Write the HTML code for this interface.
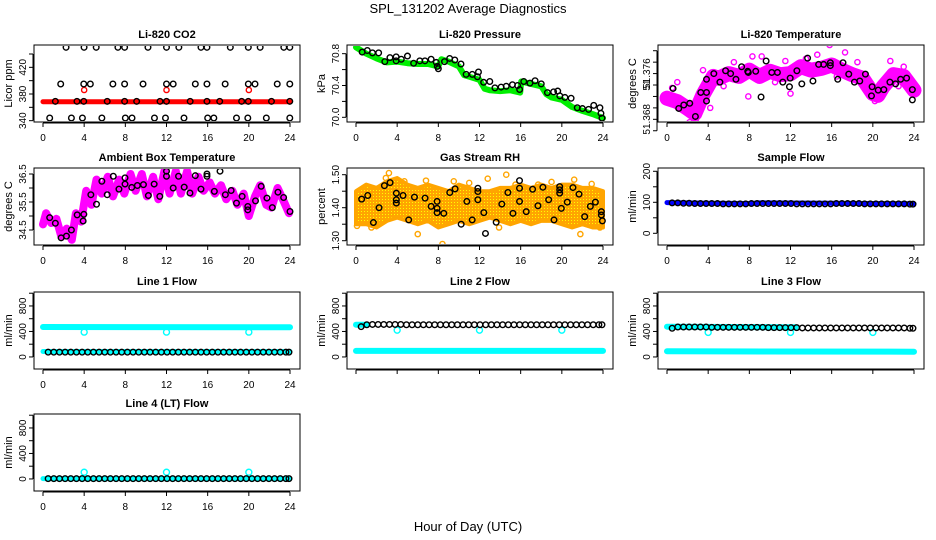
<!DOCTYPE html>
<html><head><meta charset="utf-8"><title>SPL_131202 Average Diagnostics</title>
<style>
html,body{margin:0;padding:0;background:#fff;}
svg{display:block;font-family:"Liberation Sans",Arial,sans-serif;}
</style></head>
<body>
<svg id="chart" width="936" height="540" viewBox="0 0 936 540" xmlns="http://www.w3.org/2000/svg">
<defs>
<pattern id="rhpat" width="3" height="3" patternUnits="userSpaceOnUse">
<rect width="3" height="3" fill="#ffa500"/>
<rect x="1" y="1" width="1" height="1" fill="#ffff00"/>
</pattern>
</defs>
<rect width="936" height="540" fill="#fff"/>
<text x="468" y="13" font-size="13" text-anchor="middle">SPL_131202  Average Diagnostics</text>
<text x="468" y="531" font-size="13" text-anchor="middle">Hour of Day (UTC)</text>
</svg>
<script>
// ---------- x axis ----------
const hourTicks = [0,4,8,12,16,20,24];

// ---------- CO2 ----------
const co2RedT = [0,24];
const co2RedV = [368.5,368.5];
const co2RedDotT = [4,12,20];
const co2RedDotV = [386,386,386];
const co2BlackT = [2.24,3.99,5.17,7.28,7.93,10.2,12.0,13.2,15.35,15.93,18.2,19.95,21.1,23.4,23.98,
 1.72,3.96,4.6,6.79,7.93,9.72,12.0,12.65,14.8,15.93,17.7,19.95,20.6,22.76,23.98,
 1.2,3.3,3.96,6.24,7.93,9.1,11.37,12.0,14.3,15.93,17.17,19.3,19.95,22.2,23.98,
 0.65,2.76,3.83,5.72,8.0,8.65,10.83,11.9,13.7,16.0,16.6,18.8,19.9,21.7,23.98];
const co2BlackV = [450,450,450,450,450,450,450,450,450,450,450,450,450,450,450,
 395,395,395,395,395,395,395,395,395,395,395,395,395,395,395,
 369,369,369,369,369,369,369,369,369,369,369,369,369,369,369,
 344,344,344,344,344,344,344,344,344,344,344,344,344,344,344];

// ---------- Pressure ----------
const presGreenT = [0,1,2,3,4,5,6,7,8,8.3,9,10,10.5,11,12,12.5,13,14,15,15.95,16.05,17,18,18.5,19,20,21,22,23,24];
const presGreenV = [70.88,70.80,70.74,70.69,70.70,70.68,70.67,70.67,70.64,70.73,70.70,70.64,70.53,70.51,70.47,70.36,70.34,70.33,70.34,70.31,70.45,70.42,70.39,70.29,70.25,70.22,70.13,70.08,70.04,69.99];
const presBlackT = [0.6,1.1,1.6,2.2,2.8,3.3,3.9,3.9,4.4,5.0,5.6,6.2,6.7,7.3,7.8,7.9,8.0,8.6,9.1,9.6,10.2,10.7,11.3,11.8,11.9,12.4,13.0,13.5,14.1,14.6,15.2,15.7,15.9,16.3,16.9,17.4,18.0,18.6,19.2,19.6,19.8,20.3,20.9,21.5,22.0,22.6,23.1,23.7,23.8,23.9];
const presBlackV = [70.82,70.84,70.81,70.81,70.70,70.75,70.76,70.71,70.73,70.77,70.68,70.71,70.71,70.73,70.69,70.64,70.61,70.70,70.74,70.72,70.67,70.54,70.54,70.51,70.57,70.44,70.45,70.37,70.38,70.39,70.41,70.40,70.35,70.45,70.43,70.46,70.42,70.31,70.32,70.33,70.27,70.25,70.24,70.12,70.11,70.10,70.15,70.12,70.05,69.99];

// ---------- Li-820 Temperature ----------
const tempMagT = [0,1,2,2.7,3.5,4.5,5,6,7,8,9,10,11,12,13,14,15,16,17,18,19,20,20.5,21,22,23,24];
const tempMagV = [51.3717,51.3711,51.3699,51.3690,51.3723,51.3755,51.3752,51.3760,51.3755,51.3766,51.3755,51.3764,51.3758,51.3760,51.3772,51.3766,51.3769,51.3775,51.3766,51.3758,51.3752,51.3725,51.3722,51.3737,51.3758,51.3755,51.3731];
const tempMagDotT = [1.0,7.9,9.2,15.8,17.3,21.7,23.0,14.6,8.3,3.5,2.2,12,4.2,19.5,0.5,5.5,6.5,10.5,11.5,13.5,16.5,18.5,22.5,2.8,20.2];
const tempMagDotV = [51.3745,51.3720,51.3790,51.3810,51.3797,51.3782,51.3772,51.3793,51.3790,51.3766,51.3675,51.3725,51.3700,51.3740,51.3735,51.3738,51.3780,51.3745,51.3782,51.3786,51.3755,51.3780,51.3738,51.3680,51.3712];
const tempBlackT = [0.59,1.14,1.63,2.21,2.76,3.28,3.84,3.84,3.84,4.55,5.14,5.69,6.18,6.70,7.25,7.84,7.9,8.62,9.14,9.63,10.18,10.73,11.25,11.9,11.97,12.62,13.1,13.66,14.18,14.73,15.22,15.87,15.87,16.59,17.1,17.66,18.21,18.73,19.28,19.87,19.93,20.52,21.07,21.66,22.21,22.7,23.28,23.84,23.84];
const tempBlackV = [51.3734,51.3699,51.3705,51.3708,51.3685,51.3727,51.3727,51.3712,51.3750,51.3760,51.3745,51.3765,51.3760,51.3750,51.3772,51.3764,51.3762,51.3764,51.3719,51.3782,51.3762,51.3762,51.3745,51.3737,51.3752,51.3765,51.3742,51.3787,51.3747,51.3776,51.3776,51.3779,51.3774,51.3750,51.3779,51.3759,51.3745,51.3747,51.3759,51.3721,51.3737,51.3731,51.3732,51.3745,51.3742,51.3750,51.3752,51.3732,51.3714];

// ---------- Ambient Box Temperature ----------
const ambMagT = [0,0.3,0.8,1.3,1.8,2.3,2.8,3.2,3.7,4.2,4.7,5.2,5.7,6.3,6.8,7.4,7.9,8.5,9.0,9.6,10.1,10.7,11.2,11.8,12.3,12.9,13.4,14.0,14.5,15.1,15.6,16.2,16.7,17.3,17.8,18.4,18.9,19.5,20.0,20.6,21.1,21.7,22.2,22.8,23.3,23.9];
const ambMagV = [34.7,35.1,34.75,34.9,34.25,34.55,34.15,35.1,34.8,35.9,35.4,36.3,35.8,36.4,35.7,36.3,35.8,36.5,35.9,36.5,35.7,36.4,35.6,36.6,35.8,36.6,35.8,36.6,35.8,36.4,35.9,36.2,35.8,36.1,35.6,35.9,35.4,35.8,35.0,35.7,36.1,35.4,35.3,36.0,35.6,35.1];
const ambBlackT = [0.65,1.2,1.76,2.28,2.76,3.32,3.9,3.97,4.65,5.2,5.72,6.24,6.83,7.38,7.97,7.97,8.62,9.17,9.76,10.24,10.8,11.35,12.0,12.0,12.65,13.17,13.72,14.28,14.8,15.35,15.93,15.93,16.65,17.2,17.72,18.28,18.8,19.35,19.9,19.9,20.65,21.2,21.76,22.28,22.83,23.38,24.0];
const ambBlackV = [34.94,34.74,34.22,34.28,34.5,35.04,34.82,35.06,35.76,35.42,36.24,35.76,36.42,35.96,36.14,36.36,36.02,36.09,36.12,35.73,36.14,35.70,36.60,36.42,36.00,36.42,36.03,35.82,36.44,35.96,36.50,36.42,35.88,36.60,35.76,35.91,35.46,35.70,35.34,35.22,35.54,36.06,35.64,35.30,35.85,35.66,35.16];

// ---------- Gas Stream RH ----------
const rhEnvT = [0,1,2,3,4,5,6,7,8,9,10,11,12,13,14,15,16,17,18,19,20,21,22,23,24];
const rhHi = [1.45,1.47,1.46,1.48,1.49,1.47,1.46,1.47,1.46,1.45,1.47,1.46,1.45,1.45,1.46,1.46,1.47,1.46,1.47,1.46,1.47,1.47,1.46,1.46,1.45];
const rhLo = [1.35,1.35,1.34,1.36,1.37,1.36,1.35,1.36,1.34,1.35,1.36,1.35,1.36,1.37,1.36,1.35,1.36,1.35,1.36,1.36,1.35,1.34,1.35,1.34,1.34];
const rhDotT = [3.2,14.6,8.4,6.0,21.8,13.9,23.7,21.2,0.1,9.5,17.7,4.7,2.9,6.8,11.0,15.5,19.0,22.9,1.5,12.8];
const rhDotV = [1.505,1.500,1.290,1.320,1.320,1.340,1.340,1.485,1.345,1.480,1.470,1.480,1.490,1.482,1.475,1.470,1.478,1.472,1.340,1.488];
const rhBlackT = [0.55,1.14,1.69,2.24,2.76,3.31,3.92,3.92,3.92,4.57,5.12,5.68,6.71,7.3,7.88,7.88,7.88,8.53,9.11,9.63,10.22,10.77,11.29,11.84,11.84,11.84,12.42,12.58,13.62,14.17,14.76,15.25,15.89,15.89,15.89,16.54,17.16,17.68,18.16,18.72,19.24,19.79,19.79,19.79,19.95,20.53,21.08,21.67,22.22,22.77,23.26,23.84,23.84,23.94];
const rhBlackV = [1.426,1.437,1.355,1.400,1.467,1.476,1.444,1.424,1.414,1.437,1.363,1.432,1.429,1.404,1.419,1.398,1.385,1.383,1.446,1.457,1.350,1.419,1.363,1.459,1.449,1.424,1.385,1.322,1.356,1.411,1.446,1.383,1.482,1.459,1.419,1.388,1.456,1.406,1.462,1.424,1.363,1.464,1.454,1.444,1.398,1.417,1.461,1.441,1.373,1.404,1.417,1.388,1.378,1.360];

// ---------- Flows ----------
const flowBlackT = [0.5,1.05,1.6,2.15,2.7,3.25,3.8,4.35,4.9,5.45,6.0,6.55,7.1,7.65,8.2,8.75,9.3,9.85,10.4,10.95,11.5,12.05,12.6,13.15,13.7,14.25,14.8,15.35,15.9,16.45,17.0,17.55,18.1,18.65,19.2,19.75,20.3,20.85,21.4,21.95,22.5,23.05,23.6,23.9];
const sampleBlueT = [0,2,4,8,9,16,24];
const sampleBlueV = [99,98,97,96,98,97,95];
const sampleBlackV = [98,98,97,97,96,96,96,96,96,95,95,95,95,95,96,96,96,96,96,96,96,96,95,95,95,95,95,95,95,96,96,96,96,96,95,95,95,95,95,95,95,95,94,94];
const line1CyanHiT = [0,24];
const line1CyanHiV = [470,465];
const line1CyanLoT = [0,24];
const line1CyanLoV = [85,85];
const line1DipT = [4,12,20];
const line1DipV = [390,390,390];
const line1BlackV = [75,75,75,75,75,75,75,75,75,75,75,75,75,75,75,75,75,75,75,75,75,75,75,75,75,75,75,75,75,75,75,75,75,75,75,75,75,75,75,75,75,75,75,75];
const line2CyanHiT = [0,1];
const line2CyanHiV = [505,505];
const line2CyanLoT = [0,24];
const line2CyanLoV = [95,95];
const line2DipT = [4,12,20];
const line2DipV = [420,420,420];
const line2BlackV = [475,505,510,510,510,510,510,510,505,505,505,505,505,505,505,505,505,505,505,505,505,505,505,505,505,505,505,505,505,505,505,505,505,505,505,505,505,505,505,505,505,505,505,505];
const line3CyanHiT = [0,12.5];
const line3CyanHiV = [475,465];
const line3CyanLoT = [0,24];
const line3CyanLoV = [88,82];
const line3DipT = [4,12,20];
const line3DipV = [385,385,385];
const line3BlackV = [450,470,470,470,470,470,470,465,465,465,465,465,465,465,465,465,465,460,460,460,460,460,460,455,455,455,455,455,455,455,455,455,455,455,455,455,455,455,455,455,455,455,450,450];
const line4CyanLoT = [0,24];
const line4CyanLoV = [5,5];
const line4DipT = [4,12,20];
const line4DipV = [105,105,105];
const line4BlackV = [5,5,5,5,5,5,5,5,5,5,5,5,5,5,5,5,5,5,5,5,5,5,5,5,5,5,5,5,5,5,5,5,5,5,5,5,5,5,5,5,5,5,5,5];

// ---------- drawing ----------
const NS = "http://www.w3.org/2000/svg";
const svg = document.getElementById("chart");
function mk(tag, attrs, parent){
  const e = document.createElementNS(NS, tag);
  for (const k in attrs) e.setAttribute(k, attrs[k]);
  parent.appendChild(e);
  return e;
}
const colLeft = [34,347,658];
const rowTop = [45,168,292,414];
const PW = 266, PH = 77;

function panel(col,row,name,title,ylab,ymin,ymax,yticks,ylabels){
  const L = colLeft[col], T = rowTop[row];
  const g = mk("g",{},svg);
  
  
  const sx = t => L + 9 + t*(PW-19)/24;
  const sy = v => T + PH - (v-ymin)/(ymax-ymin)*PH;
  const tt = mk("text",{x:L+PW/2,y:T-7,"font-size":11,"font-weight":"bold","text-anchor":"middle"},g);
  tt.textContent = title;
  
  
  const yt = mk("text",{x:0,y:0,"font-size":11,"text-anchor":"middle",transform:`translate(${L-22},${T+PH/2}) rotate(-90)`},g);
  yt.textContent = ylab;
  
  
  const ya = mk("line",{x1:L-1,x2:L-1,y1:sy(yticks[0]),y2:sy(yticks[yticks.length-1]),stroke:"#000","stroke-width":1},g);
  
  
  yticks.forEach((v,i)=>{
    const tk = mk("line",{x1:L-5,x2:L-1,y1:sy(v),y2:sy(v),stroke:"#000","stroke-width":1},g);
    
    
    if (ylabels[i] !== "") {
      const lb = mk("text",{x:0,y:0,"font-size":10,"text-anchor":"middle",transform:`translate(${L-8},${sy(v)}) rotate(-90)`},g);
      lb.textContent = ylabels[i];
      
      
    }
  });
  const xa = mk("line",{x1:sx(0),x2:sx(24),y1:T+PH+1,y2:T+PH+1,stroke:"#000","stroke-width":1},g);
  
  
  hourTicks.forEach(h=>{
    const tk = mk("line",{x1:sx(h),x2:sx(h),y1:T+PH+1,y2:T+PH+5,stroke:"#000","stroke-width":1},g);
    
    
    if (row===0 || row===3 || (row===2 && col===0) || row===1) {
      const lb = mk("text",{x:sx(h),y:T+PH+19,"font-size":10,"text-anchor":"middle"},g);
      lb.textContent = String(h);
      
      
    }
  });
  const box = mk("rect",{x:L,y:T,width:PW,height:PH,fill:"none",stroke:"#000","stroke-width":1},g);
  
  
  const clipId = name + "-clip";
  const cp = mk("clipPath",{id:clipId},g);
  mk("rect",{x:L+1,y:T+1,width:PW-2,height:PH-2},cp);
  const dg = mk("g",{"clip-path":`url(#${clipId})`},g);
  
  
  return {g:dg,sx,sy};
}
function band(p,T,V,color,w,name){
  const pts = T.map((t,i)=>p.sx(t).toFixed(1)+","+p.sy(V[i]).toFixed(1)).join(" ");
  const pl = mk("polyline",{points:pts,fill:"none",stroke:color,"stroke-width":w,"stroke-linejoin":"round","stroke-linecap":"round"},p.g);
  
  
  return pl;
}
function area(p,T,hi,lo,fill,name){
  const up = T.map((t,i)=>p.sx(t).toFixed(1)+","+p.sy(hi[i]).toFixed(1));
  const dn = T.map((t,i)=>p.sx(t).toFixed(1)+","+p.sy(lo[i]).toFixed(1)).reverse();
  const pg = mk("polygon",{points:up.concat(dn).join(" "),fill:fill,stroke:"#ffa500","stroke-width":4,"stroke-linejoin":"round"},p.g);
  
  
  return pg;
}
function dots(p,T,V,color,r,name){
  T.forEach((t,i)=>{
    const c = mk("circle",{cx:p.sx(t),cy:p.sy(V[i]),r:r,fill:"none",stroke:color,"stroke-width":1.4},p.g);
    
    
  });
}

// CO2
let p = panel(0,0,"co2","Li-820 CO2","Licor ppm",338,453.5,[340,360,380,400,420,440],["340","","380","","420",""]);
band(p,co2RedT,co2RedV,"#ff0000",5,"co2-red-band");
dots(p,co2RedDotT,co2RedDotV,"#ff0000",2.6,"co2-red-point");
dots(p,co2BlackT,co2BlackV,"#000",2.8,"co2-black-point");

// Pressure
p = panel(1,0,"pressure","Li-820 Pressure","kPa",69.941,70.909,[70.0,70.2,70.4,70.6,70.8],["70.0","","70.4","","70.8"]);
band(p,presGreenT,presGreenV,"#00ee00",6,"pressure-green-band");
dots(p,presBlackT,presBlackV,"#000",2.8,"pressure-black-point");

// Li-820 Temp
p = panel(2,0,"li820-temp","Li-820 Temperature","degrees C",51.36753,51.381,[51.366,51.368,51.370,51.372,51.374,51.376,51.378,51.380],["","51.368","","","51","51.376","",""]);
band(p,tempMagT,tempMagV,"#ff00ff",15,"li820-temp-magenta-band");
dots(p,tempMagDotT,tempMagDotV,"#ff00ff",2.6,"li820-temp-magenta-point");
dots(p,tempBlackT,tempBlackV,"#000",2.8,"li820-temp-black-point");

// Ambient
p = panel(0,1,"ambient-temp","Ambient Box Temperature","degrees C",33.964,36.714,[34.5,35.0,35.5,36.0,36.5],["34.5","","35.5","","36.5"]);
band(p,ambMagT,ambMagV,"#ff00ff",8,"ambient-temp-magenta-band");
dots(p,ambBlackT,ambBlackV,"#000",2.8,"ambient-temp-black-point");

// RH
p = panel(1,1,"gas-rh","Gas Stream RH","percent",1.287,1.5203,[1.30,1.35,1.40,1.45,1.50],["1.30","","1.40","","1.50"]);
area(p,rhEnvT,rhHi,rhLo,"url(#rhpat)","gas-rh-orange-band");
dots(p,rhDotT,rhDotV,"#ffa500",2.6,"gas-rh-orange-point");
dots(p,rhBlackT,rhBlackV,"#000",2.8,"gas-rh-black-point");

// Sample Flow
p = panel(2,1,"sample-flow","Sample Flow","ml/min",-37.7,210.6,[0,50,100,150,200],["0","","100","","200"]);
band(p,sampleBlueT,sampleBlueV,"#0000ff",5,"sample-flow-blue-band");
dots(p,flowBlackT,sampleBlackV,"#000",2.8,"sample-flow-black-point");

const fMin = -189, fMax = 1019;
const fTicks = [0,200,400,600,800,1000];
const fLabels = ["0","","400","","800",""];
p = panel(0,2,"line1-flow","Line 1 Flow","ml/min",fMin,fMax,fTicks,fLabels);
band(p,line1CyanHiT,line1CyanHiV,"#00ffff",6,"line1-cyan-high-band");
band(p,line1CyanLoT,line1CyanLoV,"#00ffff",5,"line1-cyan-low-band");
dots(p,line1DipT,line1DipV,"#00ffff",3,"line1-cyan-point");
dots(p,flowBlackT,line1BlackV,"#000",2.8,"line1-black-point");
p = panel(1,2,"line2-flow","Line 2 Flow","ml/min",fMin,fMax,fTicks,fLabels);
band(p,line2CyanHiT,line2CyanHiV,"#00ffff",6,"line2-cyan-high-band");
band(p,line2CyanLoT,line2CyanLoV,"#00ffff",6,"line2-cyan-low-band");
dots(p,line2DipT,line2DipV,"#00ffff",3,"line2-cyan-point");
dots(p,flowBlackT,line2BlackV,"#000",2.8,"line2-black-point");
p = panel(2,2,"line3-flow","Line 3 Flow","ml/min",fMin,fMax,fTicks,fLabels);
band(p,line3CyanHiT,line3CyanHiV,"#00ffff",6,"line3-cyan-high-band");
band(p,line3CyanLoT,line3CyanLoV,"#00ffff",6,"line3-cyan-low-band");
dots(p,line3DipT,line3DipV,"#00ffff",3,"line3-cyan-point");
dots(p,flowBlackT,line3BlackV,"#000",2.8,"line3-black-point");
p = panel(0,3,"line4-flow","Line 4 (LT) Flow","ml/min",fMin,fMax,fTicks,fLabels);
band(p,line4CyanLoT,line4CyanLoV,"#00ffff",5,"line4-cyan-band");
dots(p,line4DipT,line4DipV,"#00ffff",3,"line4-cyan-point");
dots(p,flowBlackT,line4BlackV,"#000",2.8,"line4-black-point");
</script>
</body></html>
